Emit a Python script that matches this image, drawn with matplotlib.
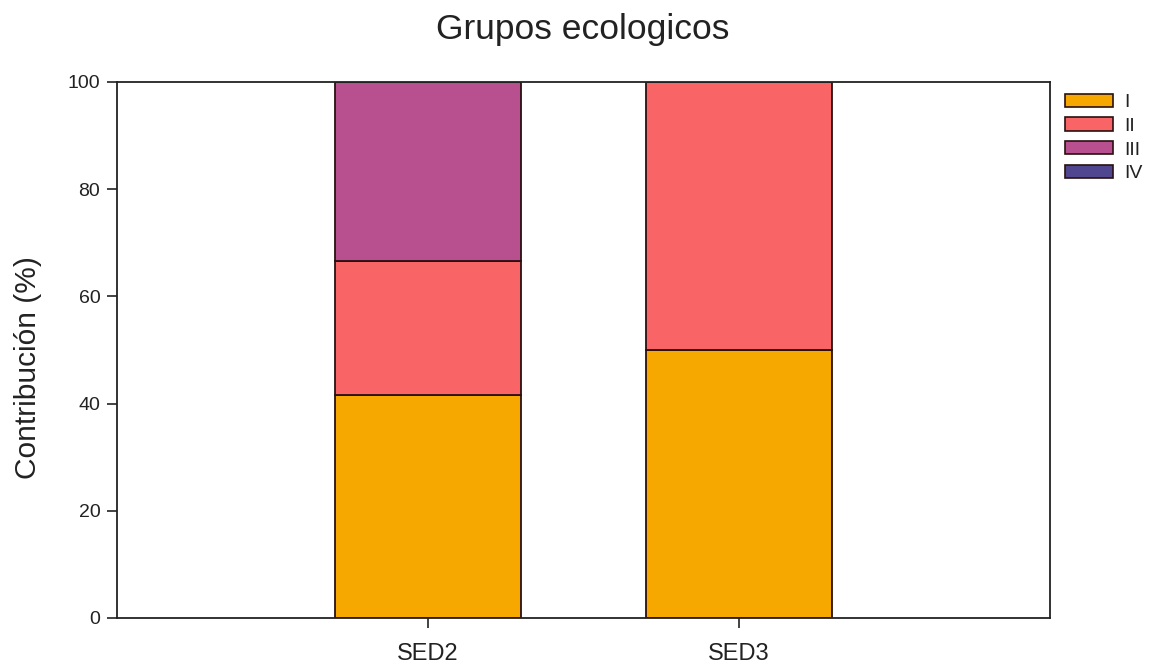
import matplotlib
matplotlib.use("Agg")
import matplotlib.pyplot as plt
from matplotlib.patches import Patch

plt.rcParams['font.family'] = ['Liberation Sans', 'DejaVu Sans']

sites = ["SED2", "SED3"]
groups = ["I", "II", "III", "IV"]
group_I = [41.67, 50.0]
group_II = [25.0, 50.0]
group_III = [33.33, 0.0]
group_IV = [0.0, 0.0]
colors = ["#F7A800", "#F96566", "#B8508F", "#50468F"]

fig = plt.figure(figsize=(11.5, 6.65), dpi=100)
ax = fig.add_axes([0.1017, 0.0707, 0.8113, 0.8063])

x = [1, 2]
bottom = [0.0, 0.0]
for vals, col in zip([group_I, group_II, group_III, group_IV], colors):
    ax.bar(x, vals, width=0.6, bottom=bottom, color=col,
           edgecolor="#2a1010", linewidth=1.3)
    bottom = [b + v for b, v in zip(bottom, vals)]

ax.set_xlim(0, 3)
ax.set_ylim(0, 100)
ax.set_xticks(x)
ax.set_xticklabels(sites, fontsize=17, color="#222222")
ax.set_yticks([0, 20, 40, 60, 80, 100])
ax.tick_params(axis="y", labelsize=14, length=7, width=1.2, direction="out",
               pad=5, colors="#222222")
ax.tick_params(axis="x", length=7, width=1.2, direction="out", pad=11,
               colors="#222222")
for s in ax.spines.values():
    s.set_linewidth(1.3)
    s.set_color("#222222")

ax.set_ylabel("Contribución (%)", fontsize=21.5, color="#222222")
ax.yaxis.set_label_coords(-0.080, 0.467)
fig.text(0.507, 0.956, "Grupos ecologicos", fontsize=25.5, color="#222222",
         ha="center", va="center")

handles = [Patch(facecolor=c, edgecolor="#2a1010", linewidth=1.2) for c in colors]
leg = fig.legend(handles, groups, loc="upper left", bbox_to_anchor=(0.926, 0.859),
                 frameon=False, fontsize=14, handlelength=2.45, handleheight=0.67,
                 labelspacing=0.32, handletextpad=0.6, borderaxespad=0,
                 borderpad=0)
for t in leg.get_texts():
    t.set_color("#222222")

fig.savefig("out.png", dpi=100)
